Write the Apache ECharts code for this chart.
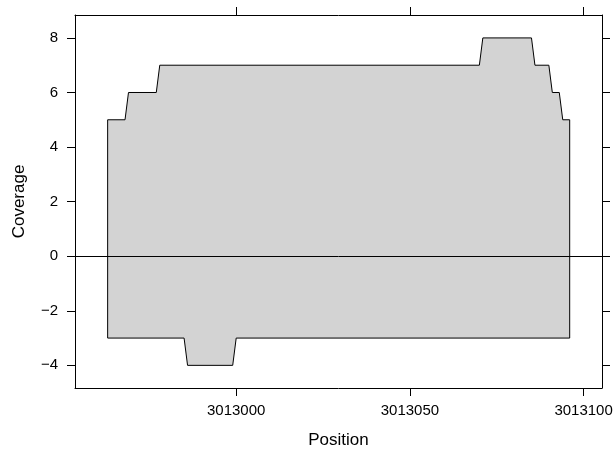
<!DOCTYPE html>
<html>
<head>
<meta charset="utf-8">
<script src="https://cdn.jsdelivr.net/npm/echarts@6/dist/echarts.min.js"></script>
<style>
  html, body { margin: 0; padding: 0; background: #fff; }
  #main { width: 615px; height: 449px; }
</style>
</head>
<body>
<div id="main"></div>
<script>
// coverage change points (position, coverage)
var topPos = [3012963, 3012968, 3012969, 3012977, 3012978, 3013070, 3013071,
              3013085, 3013086, 3013090, 3013091, 3013093, 3013094, 3013096];
var topCov = [5, 5, 6, 6, 7, 7, 8, 8, 7, 7, 6, 6, 5, 5];
var botPos = [3012963, 3012985, 3012986, 3012999, 3013000, 3013096];
var botCov = [-3, -3, -4, -4, -3, -3];

var xTicks = [3013000, 3013050, 3013100];
var yTicks = [-4, -2, 0, 2, 4, 6, 8];

var xMin = 3012953.6, xMax = 3013105.3;
var yMin = -4.83, yMax = 8.84;

// close each strand down to zero at both ends
function strand(pos, cov) {
  var d = [[pos[0], 0]];
  pos.forEach(function (p, i) { d.push([p, cov[i]]); });
  d.push([pos[pos.length - 1], 0]);
  return d;
}

var myChart = echarts.init(document.getElementById('main'));
var font = 'Liberation Sans, Arial, sans-serif';
var fmt = function (v) { return String(v).replace('-', '\u2212'); };

function xAx(pos, labels) {
  return {
    type: 'value', position: pos, min: xMin, max: xMax,
    axisLine: { show: true, onZero: false, lineStyle: { color: '#000', width: 1 } },
    axisTick: { show: true, inside: false, length: 8, customValues: xTicks, lineStyle: { color: '#000' } },
    axisLabel: { show: labels, customValues: xTicks, formatter: fmt, margin: 15, color: '#000', fontSize: 15, fontFamily: font },
    splitLine: { show: false },
    name: labels ? 'Position' : '', nameLocation: 'middle', nameGap: 44,
    nameTextStyle: { color: '#000', fontSize: 17, fontFamily: font }
  };
}
function yAx(pos, labels) {
  return {
    type: 'value', position: pos, min: yMin, max: yMax,
    axisLine: { show: true, onZero: false, lineStyle: { color: '#000', width: 1 } },
    axisTick: { show: true, inside: false, length: 8, customValues: yTicks, lineStyle: { color: '#000' } },
    axisLabel: { show: labels, customValues: yTicks, formatter: fmt, margin: 17, color: '#000', fontSize: 15, fontFamily: font },
    splitLine: { show: false },
    name: labels ? 'Coverage' : '', nameLocation: 'middle', nameGap: 47,
    nameTextStyle: { color: '#000', fontSize: 17, fontFamily: font }
  };
}

option = {
  animation: false,
  grid: { left: 75, right: 13, top: 15, bottom: 61, containLabel: false, outerBoundsMode: 'none' },
  xAxis: [xAx('bottom', true), xAx('top', false)],
  yAxis: [yAx('left', true), yAx('right', false)],
  series: [
    {
      type: 'line',
      data: strand(topPos, topCov),
      showSymbol: false,
      lineStyle: { color: '#000', width: 1 },
      areaStyle: { color: '#d3d3d3', opacity: 1, origin: 0 }
    },
    {
      type: 'line',
      data: strand(botPos, botCov),
      showSymbol: false,
      lineStyle: { color: '#000', width: 1 },
      areaStyle: { color: '#d3d3d3', opacity: 1, origin: 0 },
      markLine: {
        silent: true,
        symbol: 'none',
        label: { show: false },
        lineStyle: { color: '#000', width: 1, type: 'solid' },
        data: [{ yAxis: 0 }]
      }
    }
  ]
};
myChart.setOption(option);
</script>
</body>
</html>
